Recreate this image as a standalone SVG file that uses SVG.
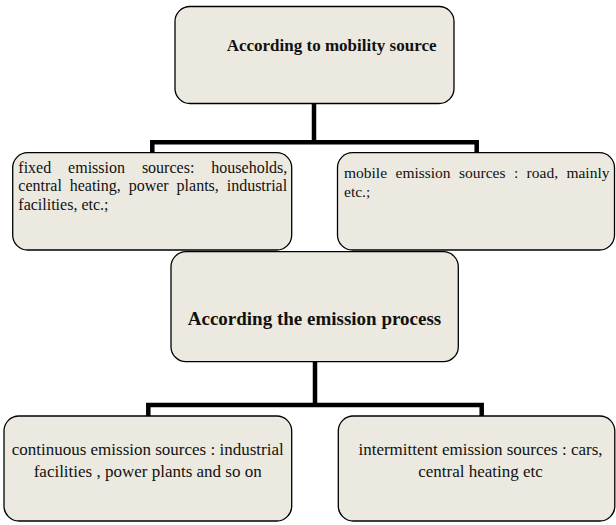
<svg xmlns="http://www.w3.org/2000/svg" width="616" height="525" viewBox="0 0 616 525">
<style>
.box{fill:#ECEAE0;stroke:#000;stroke-width:1.3}
.conn{fill:none;stroke:#000;stroke-width:4.5;stroke-linejoin:miter;stroke-linecap:butt}
.t{font-family:"Liberation Serif","Times New Roman",serif;fill:#111}
.b{font-weight:bold}
</style>
<rect width="616" height="525" fill="#fff"/>
<g id="connectors">
<path class="conn" d="M314,103.5 V142.3"/>
<path class="conn" d="M152.3,153 V142.3 H476.7 V153"/>
<path class="conn" d="M315,361.7 V405"/>
<path class="conn" d="M148.3,416.5 V405 H481.7 V416.5"/>
</g>
<g id="node-mobility">
<rect class="box" x="175" y="6.5" width="279" height="97" rx="15"/>
<text class="t b" x="226.7" y="50.7" font-size="17">According to mobility source</text>
</g>
<g id="node-fixed">
<rect class="box" x="12.7" y="152.7" width="279" height="97.3" rx="15"/>
<text class="t" font-size="16" y="172.5"><tspan x="18.3">fixed</tspan><tspan x="68.1">emission</tspan><tspan x="141.9">sources:</tspan><tspan x="211.3">households,</tspan></text>
<text class="t" font-size="16" y="191"><tspan x="18.3">central</tspan><tspan x="69.7">heating,</tspan><tspan x="128.7">power</tspan><tspan x="176.6">plants,</tspan><tspan x="226.7">industrial</tspan></text>
<text class="t" font-size="16" x="18.3" y="209.5">facilities, etc.;</text>
</g>
<g id="node-mobile">
<rect class="box" x="337.5" y="152.7" width="277" height="97.3" rx="15"/>
<text class="t" font-size="15.5" y="177.5"><tspan x="344">mobile</tspan><tspan x="395.5">emission</tspan><tspan x="459">sources</tspan><tspan x="513.9">:</tspan><tspan x="526.6">road,</tspan><tspan x="566.4">mainly</tspan></text>
<text class="t" font-size="15.5" x="344" y="196.5">etc.;</text>
</g>
<g id="node-process">
<rect class="box" x="171" y="251.7" width="287.3" height="110" rx="15"/>
<text class="t b" x="314.5" y="325" font-size="19" text-anchor="middle">According the emission process</text>
</g>
<g id="node-continuous">
<rect class="box" x="4" y="416" width="287.7" height="105" rx="15"/>
<text class="t" font-size="17" text-anchor="middle"><tspan x="147.7" y="455">continuous emission sources : industrial</tspan><tspan x="147.7" y="476.7">facilities , power plants and so on</tspan></text>
</g>
<g id="node-intermittent">
<rect class="box" x="338.3" y="416" width="276.5" height="105" rx="15"/>
<text class="t" font-size="17" text-anchor="middle"><tspan x="480.5" y="455">intermittent emission sources : cars,</tspan><tspan x="480.5" y="476.7">central heating etc</tspan></text>
</g>
</svg>
